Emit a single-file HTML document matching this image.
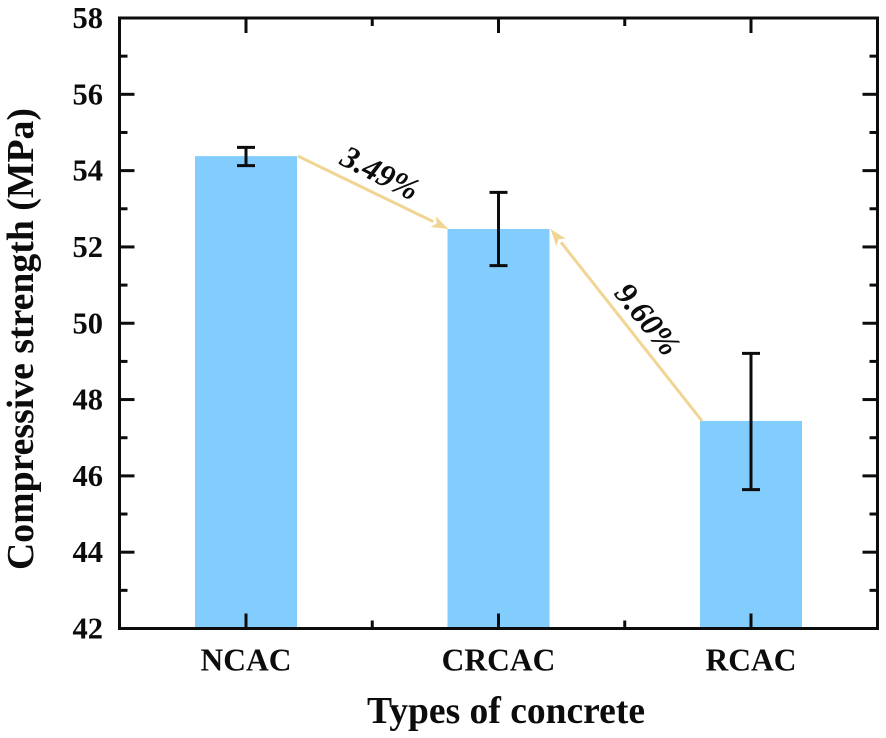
<!DOCTYPE html>
<html lang="en">
<head>
<meta charset="utf-8">
<title>Compressive strength by type of concrete</title>
<style>
html,body{margin:0;padding:0;background:#fff;}
svg{display:block;filter:blur(0.35px);}
text{font-family:"Liberation Serif",serif;font-weight:bold;fill:#0c0c0c;}
</style>
</head>
<body>
<svg id="chart" xmlns="http://www.w3.org/2000/svg" width="886" height="738" viewBox="0 0 886 738"></svg>
<script>
const categories = ["NCAC", "CRCAC", "RCAC"];
const strengthValues = [54.38, 52.47, 47.44];
const errorUpper = [54.61, 53.43, 49.21];
const errorLower = [54.13, 51.51, 45.64];
const yMajorTicks = [42, 44, 46, 48, 50, 52, 54, 56, 58];
const yMinorTicks = [43, 45, 47, 49, 51, 53, 55, 57];
const changeLabels = ["3.49%", "9.60%"];

const NS = "http://www.w3.org/2000/svg";
const svg = document.getElementById("chart");
const plot = {left: 119.5, right: 877.5, top: 18, bottom: 628.5};
const yMin = 42, yMax = 58;
const firstCat = 246, catStep = 252.5, barWidth = 102;
const inkColor = "#0c0c0c";
const arrowColor = "#f0d594";

function yScale(v) {
  return plot.bottom - (v - yMin) / (yMax - yMin) * (plot.bottom - plot.top);
}
function xScale(i) {
  return firstCat + i * catStep;
}
function make(tag, attrs, name, parent) {
  const el = document.createElementNS(NS, tag);
  for (const k in attrs) el.setAttribute(k, attrs[k]);
  
  
  (parent || svg).appendChild(el);
  return el;
}
function line(x1, y1, x2, y2, name, width, color, parent) {
  return make("line", {x1, y1, x2, y2, stroke: color || inkColor, "stroke-width": width || 3}, name, parent);
}

/* bars */
categories.forEach((c, i) => {
  make("rect", {
    x: xScale(i) - barWidth / 2,
    y: yScale(strengthValues[i]),
    width: barWidth,
    height: plot.bottom - yScale(strengthValues[i]),
    fill: "#82cdfd"
  }, "bar-" + c.toLowerCase());
});

/* change arrows between bar corners */
function arrow(x1, y1, x2, y2, name) {
  const g = make("g", {}, name);
  const a = Math.atan2(y2 - y1, x2 - x1);
  const headLen = 17, headHalf = 6;
  const bx = x2 - headLen * Math.cos(a), by = y2 - headLen * Math.sin(a);
  line(x1, y1, bx, by, name + "-shaft", 3, arrowColor, g);
  const px = -Math.sin(a), py = Math.cos(a);
  const pts = [
    [x2, y2],
    [bx + px * headHalf, by + py * headHalf],
    [bx + 4 * Math.cos(a), by + 4 * Math.sin(a)],
    [bx - px * headHalf, by - py * headHalf]
  ].map(p => p.join(",")).join(" ");
  make("polygon", {points: pts, fill: arrowColor}, name + "-head", g);
}
arrow(xScale(0) + barWidth / 2 + 1, yScale(strengthValues[0]),
      xScale(1) - barWidth / 2 + 1, yScale(strengthValues[1]), "arrow-ncac-to-crcac");
arrow(xScale(2) - barWidth / 2 + 2, yScale(strengthValues[2]),
      xScale(1) + barWidth / 2 + 1, yScale(strengthValues[1]), "arrow-rcac-to-crcac");

/* change labels */
function midLabel(str, cx, cy, angle, name) {
  const t = make("text", {
    x: cx, y: cy, "text-anchor": "middle", "dominant-baseline": "central",
    "font-size": 32, "font-style": "italic",
    transform: "rotate(" + angle + " " + cx + " " + cy + ")"
  }, name);
  t.textContent = str;
}
midLabel(changeLabels[0],
  (xScale(0) + xScale(1)) / 2 + 8,
  (yScale(strengthValues[0]) + yScale(strengthValues[1])) / 2 - 20, 27, "change-label-ncac-crcac");
midLabel(changeLabels[1],
  (xScale(1) + xScale(2)) / 2 + 23,
  (yScale(strengthValues[1]) + yScale(strengthValues[2])) / 2 - 6, 51, "change-label-crcac-rcac");

/* error bars */
categories.forEach((c, i) => {
  const g = make("g", {}, "error-bar-" + c.toLowerCase());
  const x = xScale(i), up = yScale(errorUpper[i]), lo = yScale(errorLower[i]);
  line(x, up, x, lo, "error-stem", 3, inkColor, g);
  line(x - 9, up, x + 9, up, "error-cap-upper", 3, inkColor, g);
  line(x - 9, lo, x + 9, lo, "error-cap-lower", 3, inkColor, g);
});

/* ticks */
yMajorTicks.forEach(v => {
  if (v !== yMin && v !== yMax) {
    line(plot.left, yScale(v), plot.left + 15, yScale(v), "y-major-tick-left");
    line(plot.right - 15, yScale(v), plot.right, yScale(v), "y-major-tick-right");
  }
  const t = make("text", {
    x: 103, y: yScale(v) + 10, "text-anchor": "end", "font-size": 30.5
  }, "y-tick-label-" + v);
  t.textContent = v;
});
yMinorTicks.forEach(v => {
  line(plot.left, yScale(v), plot.left + 8, yScale(v), "y-minor-tick-left");
  line(plot.right - 8, yScale(v), plot.right, yScale(v), "y-minor-tick-right");
});
categories.forEach((c, i) => {
  const x = xScale(i);
  line(x, plot.bottom, x, plot.bottom - 15, "x-major-tick-bottom");
  line(x, plot.top, x, plot.top + 15, "x-major-tick-top");
  const t = make("text", {
    x: x, y: 670.5, "text-anchor": "middle", "font-size": 31.5
  }, "x-tick-label-" + c.toLowerCase());
  t.textContent = c;
  if (i < categories.length - 1) {
    const m = x + catStep / 2;
    line(m, plot.bottom, m, plot.bottom - 8, "x-minor-tick-bottom");
    line(m, plot.top, m, plot.top + 8, "x-minor-tick-top");
  }
});

/* frame */
make("rect", {
  x: plot.left, y: plot.top,
  width: plot.right - plot.left, height: plot.bottom - plot.top,
  fill: "none", stroke: inkColor, "stroke-width": 3
}, "plot-frame");

/* axis titles */
const xTitle = make("text", {
  x: 506, y: 723, "text-anchor": "middle", "font-size": 38,
  textLength: 278, lengthAdjust: "spacingAndGlyphs"
}, "x-axis-title");
xTitle.textContent = "Types of concrete";
const yTitle = make("text", {
  x: 0, y: 0, "text-anchor": "middle", "font-size": 38,
  textLength: 462, lengthAdjust: "spacingAndGlyphs",
  transform: "translate(33 339) rotate(-90)"
}, "y-axis-title");
yTitle.textContent = "Compressive strength (MPa)";
</script>
</body>
</html>
